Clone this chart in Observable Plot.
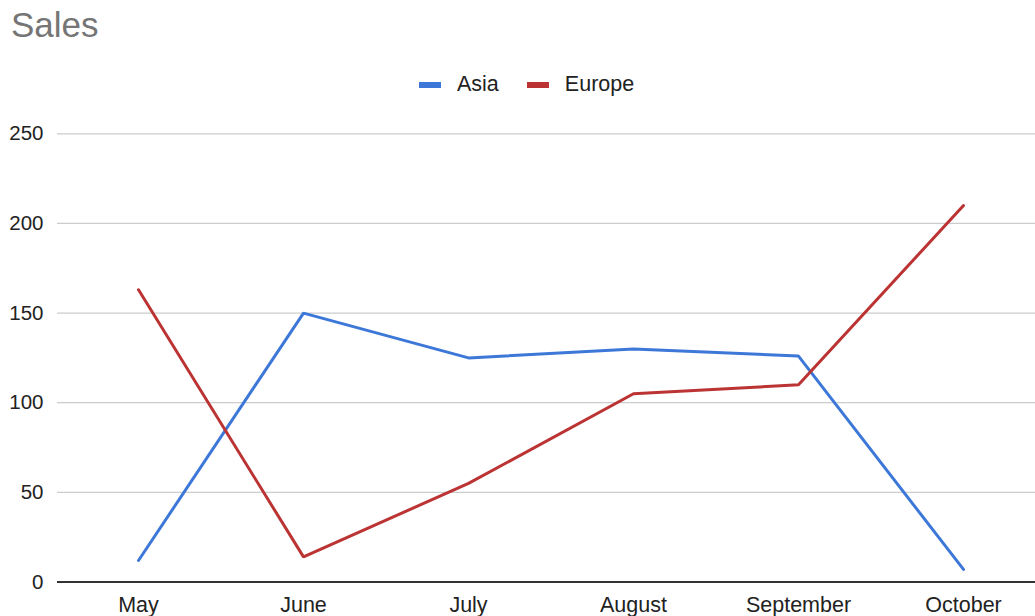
<!DOCTYPE html>
<html>
<head>
<meta charset="utf-8">
<script src="https://cdn.jsdelivr.net/npm/d3@7"></script>
<script src="https://cdn.jsdelivr.net/npm/@observablehq/plot@0.6"></script>
<style>
  html, body { margin: 0; padding: 0; background: #fff; overflow: hidden; }
  body { width: 1035px; height: 616px; font-family: "Liberation Sans", Arial, sans-serif; }
  #header { position: relative; height: 100px; width: 1035px; }
  #title { position: absolute; left: 11px; top: 7.1px; font-size: 35px; line-height: 35px; color: #757575; white-space: nowrap; }
  #legend { position: absolute; left: 419px; top: 74.1px; display: flex; align-items: center; font-size: 21.5px; line-height: 21.5px; color: #222; white-space: nowrap; }
  .sw { width: 22px; height: 6px; display: inline-block; margin-right: 16px; }
  .item { display: flex; align-items: center; margin-right: 28px; }
  svg { display: block; }
</style>
</head>
<body>
<div id="header">
  <div id="title">Sales</div>
  <div id="legend"></div>
</div>
<div id="chart"></div>
<script>
const months = ["May", "June", "July", "August", "September", "October"];
const asia = [12, 150, 125, 130, 126, 7];
const europe = [163, 14, 55, 105, 110, 210];
const yTicks = [0, 50, 100, 150, 200, 250];
const seriesNames = ["Asia", "Europe"];
const seriesColors = ["#3d78d8", "#bb3333"];

const legend = document.getElementById("legend");
seriesNames.forEach((n, i) => {
  const it = document.createElement("span");
  it.className = "item";
  const sw = document.createElement("span");
  sw.className = "sw";
  sw.style.background = seriesColors[i];
  it.appendChild(sw);
  it.appendChild(document.createTextNode(n));
  legend.appendChild(it);
});

const toRows = (vals) => months.map((m, i) => ({month: m, value: vals[i]}));

const chart = Plot.plot({
  width: 1035,
  height: 516,
  marginLeft: 57,
  marginRight: 0,
  marginTop: 33.3,
  marginBottom: 34.5,
  style: {fontFamily: '"Liberation Sans", Arial, sans-serif', fontSize: "20px", color: "#222", background: "#fff"},
  x: {type: "point", domain: months, range: [138, 963], padding: 0, label: null},
  y: {domain: [0, 250], label: null},
  marks: [
    Plot.ruleY(yTicks.filter(d => d !== 0), {stroke: "#cccccc", strokeWidth: 1.2}),
    Plot.ruleY([0], {stroke: "#333333", strokeWidth: 2.2}),
    Plot.axisY({ticks: yTicks, tickSize: 0, tickPadding: 14, label: null, fill: "#222", fontSize: 20.5}),
    Plot.axisX({tickSize: 0, tickPadding: 15, label: null, fill: "#222", fontSize: 21.5}),
    Plot.line(toRows(asia), {x: "month", y: "value", stroke: seriesColors[0], strokeWidth: 3, strokeLinejoin: "miter"}),
    Plot.line(toRows(europe), {x: "month", y: "value", stroke: seriesColors[1], strokeWidth: 3, strokeLinejoin: "miter"})
  ]
});
document.getElementById("chart").appendChild(chart);
</script>
</body>
</html>
